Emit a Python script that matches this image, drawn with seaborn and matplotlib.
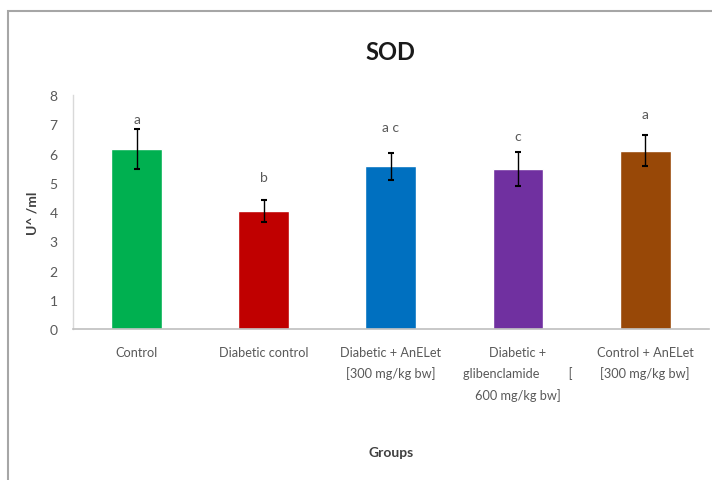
import matplotlib
matplotlib.use("Agg")
import matplotlib.pyplot as plt
from matplotlib.patches import Rectangle
import seaborn as sns
import pandas as pd

groups = [
    "Control",
    "Diabetic control",
    "Diabetic + AnELet\n[300 mg/kg bw]",
    "Diabetic +\nglibenclamide         [\n600 mg/kg bw]",
    "Control + AnELet\n[300 mg/kg bw]",
]
sod_means = [6.15, 4.05, 5.56, 5.46, 6.10]
sod_errors = [0.68, 0.38, 0.46, 0.58, 0.53]
letters = ["a", "b", "a c", "c", "a"]
letter_heights = [7.2, 5.2, 6.9, 6.6, 7.35]
bar_colors = ["#00B050", "#C00000", "#0070C0", "#7030A0", "#984807"]

sns.set_theme(style="white")
plt.rcParams["font.family"] = ["Lato", "DejaVu Sans"]

df = pd.DataFrame({"group": groups, "sod": sod_means})

fig = plt.figure(figsize=(7.12, 4.81), dpi=100)
ax = fig.add_axes([0.1025, 0.314, 0.893, 0.486])

sns.barplot(data=df, x="group", y="sod", hue="group", palette=bar_colors,
            width=0.40, saturation=1, legend=False, ax=ax)
ax.errorbar(range(len(groups)), sod_means, yerr=sod_errors, fmt="none",
            ecolor="black", elinewidth=1, capsize=2.5, capthick=1.5)

for i, (lab, h) in enumerate(zip(letters, letter_heights)):
    ax.text(i, h, lab, ha="center", va="center", fontsize=10, color="#595959")

ax.set_ylim(0, 8)
ax.set_xlim(-0.5, 4.5)
ax.set_yticks(range(0, 9))
ax.tick_params(axis="y", length=0, labelsize=10, labelcolor="#595959", pad=11)
ax.tick_params(axis="x", length=0, labelsize=9.2, labelcolor="#595959", pad=12)
for lbl in ax.get_xticklabels():
    lbl.set_multialignment("center")
    lbl.set_linespacing(1.8)

for side in ["top", "right"]:
    ax.spines[side].set_visible(False)
ax.spines["left"].set_color("#D9D9D9")
ax.spines["bottom"].set_color("#BFBFBF")
ax.spines["left"].set_linewidth(1)
ax.spines["bottom"].set_linewidth(1.2)

ax.set_xlabel("Groups", fontsize=10, fontweight="bold", color="#404040", labelpad=32)
ax.set_ylabel("U^ /ml", fontsize=10, fontweight="bold", color="#404040", labelpad=8)
ax.set_title("SOD", fontsize=17, fontweight="bold", color="#1a1a1a", pad=26)

fig.patches.append(Rectangle((8 / 712, -0.05), 1.0, 1 - 12 / 481 + 0.05,
                             transform=fig.transFigure, fill=False,
                             edgecolor="#A6A6A6", linewidth=1.5))

fig.savefig("out.png", dpi=100)
